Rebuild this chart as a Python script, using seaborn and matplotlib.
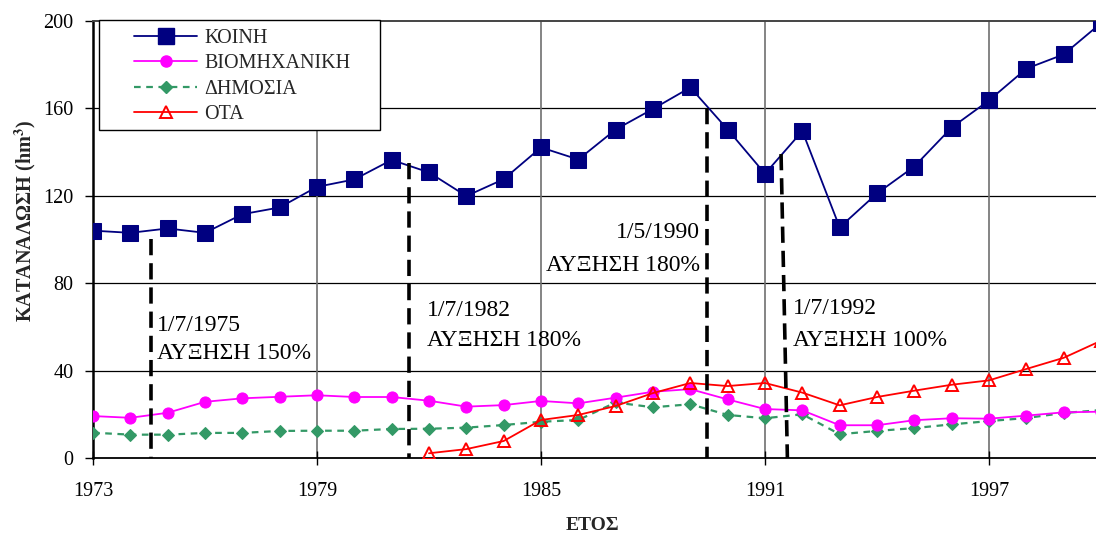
import matplotlib
matplotlib.use("Agg")
import matplotlib.pyplot as plt
import seaborn as sns
from matplotlib.lines import Line2D
from matplotlib.patches import Rectangle

# ---------------- data ----------------
years = list(range(1973, 2001))
koinh = [104, 103, 105, 103, 111.5, 114.6, 124, 127.4, 136.3, 130.6, 119.8, 127.5, 142, 136.5,
         150.2, 159.6, 169.4, 150.2, 130, 149.5, 105.5, 121, 133.3, 151.1, 163.5, 178, 184.5, 198.8]
biom = [19.3, 18.5, 20.8, 25.8, 27.4, 28.1, 28.8, 28, 28, 26.3, 23.6, 24.3, 26.2, 25.1,
        27.7, 30.4, 31.6, 26.9, 22.5, 21.9, 15.1, 15.1, 17.4, 18.3, 18.1, 19.5, 21, 21.3]
dimosia = [11.7, 10.8, 10.8, 11.6, 11.6, 12.5, 12.6, 12.6, 13.4, 13.5, 14, 15.2, 16.7, 17.5,
           25.5, 23.3, 24.7, 19.8, 18.3, 20.1, 11, 12.5, 13.8, 15.5, 17, 18.4, 20.7, 22]
ota_years = list(range(1982, 2001))
ota = [2.3, 4.2, 7.9, 17.5, 19.8, 23.9, 29.8, 34.4, 33, 34.4,
       30, 24.2, 28, 30.9, 33.6, 35.6, 40.8, 45.9, 53.7]

series_names = ["ΚΟΙΝΗ", "ΒΙΟΜΗΧΑΝΙΚΗ", "ΔΗΜΟΣΙΑ", "ΟΤΑ"]

# tariff-increase events
event_x_top = [1974.55, 1981.47, 1989.44, 1991.43]
event_x_bot = [1974.55, 1981.47, 1989.44, 1991.60]
event_top = [100, 135, 160, 139]
event_dates = ["1/7/1975", "1/7/1982", "1/5/1990", "1/7/1992"]
event_texts = ["ΑΥΞΗΣΗ 150%", "ΑΥΞΗΣΗ 180%", "ΑΥΞΗΣΗ 180%", "ΑΥΞΗΣΗ 100%"]
text_x = [1974.72, 1981.95, 1989.25, 1991.75]
text_ha = ["left", "left", "right", "left"]
date_y = [60.5, 67.5, 103, 68.5]
inc_y = [48, 54, 88, 54]

xticks = [1973, 1979, 1985, 1991, 1997]
yticks = [0, 40, 80, 120, 160, 200]

# ---------------- style ----------------
sns.set_theme(style="white")
plt.rcParams["font.family"] = ["Liberation Serif", "DejaVu Serif"]
plt.rcParams["mathtext.fontset"] = "stix"

fig = plt.figure(figsize=(10.96, 5.35), dpi=100)
ax = fig.add_axes([93 / 1096, (535 - 458.3) / 535, (1101 - 93) / 1096, (458.3 - 20.5) / 535])

c_k, c_b, c_d, c_o = "#000080", "#FF00FF", "#339966", "#FF0000"

# grid
for yv in yticks[1:-1]:
    ax.axhline(yv, color="black", lw=0.9, zorder=0)
for xv in xticks[1:]:
    ax.axvline(xv, color="#707070", lw=1.2, zorder=0)

sns.lineplot(x=years, y=koinh, ax=ax, color=c_k, marker="s", markersize=11,
             markeredgecolor=c_k, lw=1.3, legend=False, zorder=5)
sns.lineplot(x=years, y=biom, ax=ax, color=c_b, marker="o", markersize=8,
             markeredgecolor=c_b, lw=1.3, legend=False, zorder=4)
sns.lineplot(x=years, y=dimosia, ax=ax, color=c_d, marker="D", markersize=6.5,
             markeredgecolor=c_d, lw=1.6, linestyle=(0, (3, 2.5)), legend=False, zorder=3)
sns.lineplot(x=ota_years, y=ota, ax=ax, color=c_o, marker="^", markersize=9,
             markerfacecolor="none", markeredgecolor=c_o, markeredgewidth=1.4,
             lw=1.3, legend=False, zorder=6)

# event dashed lines and texts
for i in range(len(event_top)):
    ax.plot([event_x_top[i], event_x_bot[i]], [event_top[i], 0], color="black",
            lw=2.6, linestyle=(0, (4.5, 2.2)), zorder=7)
    ax.text(text_x[i], date_y[i], event_dates[i], ha=text_ha[i], va="center",
            fontsize=17, color="black", zorder=8)
    ax.text(text_x[i], inc_y[i], event_texts[i], ha=text_ha[i], va="center",
            fontsize=17, color="black", zorder=8)

ax.set_xlim(1973, 2000)
ax.set_ylim(0, 200)
ax.set_xticks(xticks)
ax.set_yticks(yticks)
ax.tick_params(axis="x", direction="inout", length=10, width=1, pad=12,
               labelsize=14.5, colors="black", bottom=True)
ax.tick_params(axis="y", direction="out", length=6, width=1, pad=8,
               labelsize=14.5, colors="black", left=True)

for s in ["left", "bottom"]:
    ax.spines[s].set_color("black")
ax.spines["left"].set_linewidth(1.8)
ax.spines["bottom"].set_linewidth(1.3)
ax.spines["top"].set_color("#444444")
ax.spines["top"].set_linewidth(1.4)
ax.spines["right"].set_visible(False)

ax.set_xlabel("ΕΤΟΣ", fontsize=14, fontweight="bold")
ax.set_ylabel(r"ΚΑΤΑΝΑΛΩΣΗ (hm$^{\mathbf{3}}$)", fontsize=14.5, fontweight="bold")
ax.xaxis.set_label_coords(0.495, -0.133)
ax.yaxis.set_label_coords(-0.055, 0.542)

# legend
handles = [
    Line2D([], [], color=c_k, marker="s", markersize=11, lw=1.3),
    Line2D([], [], color=c_b, marker="o", markersize=8, lw=1.3),
    Line2D([], [], color=c_d, marker="D", markersize=6.5, lw=1.6, linestyle=(0, (3, 2.5))),
    Line2D([], [], color=c_o, marker="^", markersize=9, markerfacecolor="none",
           markeredgewidth=1.4, lw=1.3),
]
leg = fig.legend(handles, series_names, loc="upper left",
                 bbox_to_anchor=(134 / 1096, (535 - 29) / 535), frameon=False,
                 fontsize=14.5, handlelength=3.15, handletextpad=0.35,
                 labelspacing=0.31, borderpad=0, borderaxespad=0)
fig.patches.append(Rectangle((99 / 1096, (535 - 130) / 535), (380 - 99) / 1096, 110 / 535,
                             transform=fig.transFigure, facecolor="white",
                             edgecolor="black", lw=1.0, zorder=9))
leg.set_zorder(10)

fig.savefig("out.png", dpi=100)
